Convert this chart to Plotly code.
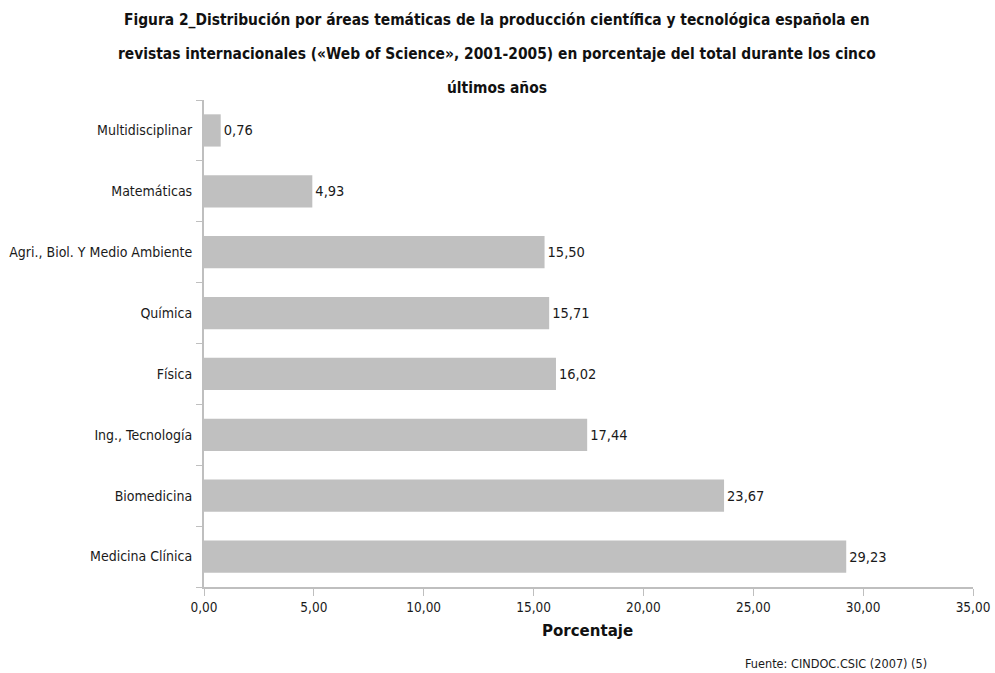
import plotly.graph_objects as go

categories = ["Medicina Clínica", "Biomedicina", "Ing., Tecnología", "Física",
              "Química", "Agri., Biol. Y Medio Ambiente", "Matemáticas", "Multidisciplinar"]
values = [29.23, 23.67, 17.44, 16.02, 15.71, 15.50, 4.93, 0.76]
x_ticks = [0, 5, 10, 15, 20, 25, 30, 35]
title_lines = [
    "Figura 2_Distribución por áreas temáticas de la producción científica y tecnológica española en",
    "revistas internacionales («Web of Science», 2001-2005) en porcentaje del total durante los cinco",
    "últimos años",
]

FONT = "DejaVu Sans Condensed, Liberation Sans Narrow, Arial Narrow, sans-serif"
labels = [f"{v:.2f}".replace(".", ",") for v in values]

fig = go.Figure(go.Bar(
    x=values, y=categories, orientation="h",
    marker=dict(color="#c0c0c0", line=dict(width=0)),
    width=0.53,
    text=labels, textposition="outside",
    textfont=dict(family=FONT, size=14.5, color="#1a1a1a"),
    cliponaxis=False,
))

fig.update_layout(
    width=995, height=673,
    margin=dict(l=204, r=22, t=100, b=86),
    paper_bgcolor="white", plot_bgcolor="white",
    separators=",.",
    showlegend=False,
    font=dict(family=FONT, color="#1a1a1a"),
    xaxis=dict(range=[0, 35], tickvals=x_ticks, tickformat=".2f",
               showgrid=False, zeroline=False, automargin=False,
               showline=True, linecolor="#bfbfbf", linewidth=2,
               ticks="outside", ticklen=7, tickcolor="#bfbfbf", tickwidth=1,
               tickfont=dict(family=FONT, size=13.5, color="#1a1a1a")),
    yaxis=dict(showgrid=False, zeroline=False, automargin=False,
               showline=True, linecolor="#bfbfbf", linewidth=2,
               ticks="outside", ticklen=6, tickcolor="#bfbfbf", tickwidth=1,
               tickson="boundaries",
               tickfont=dict(family=FONT, size=14, color="#1a1a1a"),
               ticklabelstandoff=7),
)

ys = [20, 54, 88]
for line, yy in zip(title_lines, ys):
    fig.add_annotation(text=f"<b>{line}</b>", xref="paper", yref="paper",
                       x=(497 - 204) / (995 - 204 - 22), y=1 + (100 - yy) / 487,
                       xanchor="center", yanchor="middle", showarrow=False,
                       font=dict(family=FONT, size=15.4, color="#111111"))

fig.add_annotation(text="<b>Porcentaje</b>", xref="paper", yref="paper",
                   x=(587 - 204) / 769, y=-(630 - 587) / 487,
                   xanchor="center", yanchor="middle", showarrow=False,
                   font=dict(family=FONT, size=16.7, color="#111111"))
fig.add_annotation(text="Fuente: CINDOC.CSIC (2007) (5)", xref="paper", yref="paper",
                   x=(836 - 204) / 769, y=-(663 - 587) / 487,
                   xanchor="center", yanchor="middle", showarrow=False,
                   font=dict(family=FONT, size=12.6, color="#1a1a1a"))

fig.write_html("out.html", config={"displayModeBar": False},
               post_script="document.body.style.margin='0';")
